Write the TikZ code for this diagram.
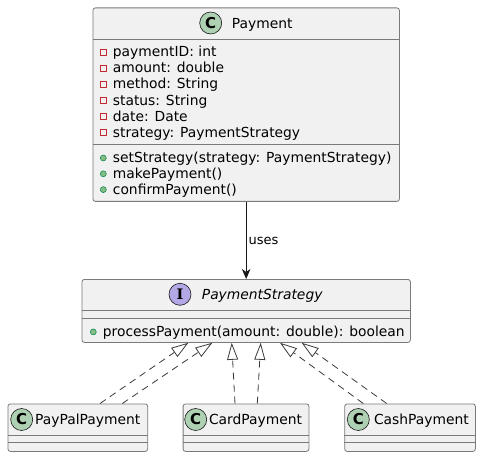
\documentclass[tikz,border=0pt]{standalone}
\usepackage{fontspec}
\setmainfont{DejaVu Sans}
\newfontfamily\iserif{DejaVu Serif}
\usetikzlibrary{arrows.meta,calc}
\definecolor{boxfill}{HTML}{F1F1F1}
\definecolor{boxline}{HTML}{181818}
\definecolor{boxedge}{HTML}{7A7A7A}
\definecolor{classgreen}{HTML}{ADD1B2}
\definecolor{intpurple}{HTML}{B4A7E5}
\definecolor{privred}{HTML}{C82930}
\definecolor{pubgreen}{HTML}{84BE84}
\definecolor{pubdark}{HTML}{038048}
\begin{document}
\begin{tikzpicture}[x=1pt,y=-1pt,
  umlbox/.style={draw=boxedge, fill=boxfill, line width=0.8pt, rounded corners=2.5pt, inner sep=0pt, anchor=north west},
  divider/.style={draw=boxedge, line width=0.8pt},
  member/.style={anchor=base west, inner sep=0pt, font=\fontsize{13.85}{16}\selectfont},
  titletxt/.style={anchor=base west, inner sep=0pt, font=\fontsize{13.85}{16}\selectfont},
  ccircle/.style={circle, draw=boxline, line width=0.6pt, fill=classgreen, minimum size=22pt, inner sep=0pt, font=\bfseries\fontsize{15}{15}\selectfont},
  icircle/.style={circle, draw=boxline, line width=0.6pt, fill=intpurple, minimum size=22pt, inner sep=0pt, font=\iserif\bfseries\fontsize{14.5}{15}\selectfont},
  privicon/.style={rectangle, draw=privred, line width=0.7pt, minimum size=6pt, inner sep=0pt},
  pubicon/.style={circle, draw=pubdark, fill=pubgreen, line width=0.5pt, minimum size=6pt, inner sep=0pt},
  usesarrow/.style={draw=boxline, line width=0.9pt, -{Stealth[length=10pt,width=8.5pt,inset=3pt]}},
  impl/.style={draw=boxline!85, line width=0.8pt, dash pattern=on 7pt off 5pt, -{Triangle[length=17pt,width=11pt,fill=white,line width=0.8pt]}},
  lbl/.style={inner sep=0pt, font=\fontsize{13}{15}\selectfont}
]
\fill[white] (0,0) rectangle (479,457);
\useasboundingbox (0,0) rectangle (479,457);

% Payment class
\node[umlbox, minimum width=306.5pt, minimum height=193.5pt] (pay) at (92.5,7.5) {};
\draw[divider] ([yshift=-31.5pt]pay.north west) -- ([yshift=-31.5pt]pay.north east);
\draw[divider] ([yshift=-136.5pt]pay.north west) -- ([yshift=-136.5pt]pay.north east);
\node[ccircle] (payc) at (210.7,23) {C};
\node[titletxt] (payt) at (231.7,28.3) {Payment};
\foreach \t [count=\i] in {paymentID: int, amount: double, method: String, status: String, date: Date, strategy: PaymentStrategy}{
  \pgfmathsetmacro\yy{56.8+16.1*(\i-1)}
  \node[member] (pa\i) at (112.7,\yy) {\t};
  \node[privicon] (pai\i) at (103.3,\yy-4.6) {};
}
\foreach \t [count=\i] in {setStrategy(strategy: PaymentStrategy), makePayment(), confirmPayment()}{
  \pgfmathsetmacro\yy{162.6+15.8*(\i-1)}
  \node[member] (pm\i) at (112.7,\yy) {\t};
  \node[pubicon] (pmi\i) at (103.3,\yy-4.6) {};
}

% PaymentStrategy interface
\node[umlbox, minimum width=328.5pt, minimum height=63pt] (ps) at (81.5,279) {};
\draw[divider] ([yshift=-31.7pt]ps.north west) -- ([yshift=-31.7pt]ps.north east);
\draw[divider] ([yshift=-39.3pt]ps.north west) -- ([yshift=-39.3pt]ps.north east);
\node[icircle] (psc) at (180,294.3) {I};
\node[titletxt, font=\itshape\fontsize{13.85}{16}\selectfont] (pst) at (201.7,299.6) {PaymentStrategy};
\node[member] (psm1) at (102.7,336.5) {processPayment(amount: double): boolean};
\node[pubicon] (psmi1) at (93.3,331.9) {};

% Implementations
\node[umlbox, minimum width=139.8pt, minimum height=47.5pt] (pp) at (7.5,403.5) {};
\draw[divider] ([yshift=-31.5pt]pp.north west) -- ([yshift=-31.5pt]pp.north east);
\draw[divider] ([yshift=-39.3pt]pp.north west) -- ([yshift=-39.3pt]pp.north east);
\node[ccircle] (ppc) at (21.7,419.5) {C};
\node[titletxt] (ppt) at (35,424.8) {PayPalPayment};

\node[umlbox, minimum width=125.8pt, minimum height=47.5pt] (cp) at (182.7,403.5) {};
\draw[divider] ([yshift=-31.5pt]cp.north west) -- ([yshift=-31.5pt]cp.north east);
\draw[divider] ([yshift=-39.3pt]cp.north west) -- ([yshift=-39.3pt]cp.north east);
\node[ccircle] (cpc) at (195.7,419.5) {C};
\node[titletxt] (cpt) at (208.8,424.8) {CardPayment};

\node[umlbox, minimum width=130.7pt, minimum height=47.5pt] (cs) at (344.3,403.5) {};
\draw[divider] ([yshift=-31.5pt]cs.north west) -- ([yshift=-31.5pt]cs.north east);
\draw[divider] ([yshift=-39.3pt]cs.north west) -- ([yshift=-39.3pt]cs.north east);
\node[ccircle] (csc) at (358.3,419.5) {C};
\node[titletxt] (cst) at (373.8,424.8) {CashPayment};

% uses association
\draw[usesarrow] (pay.south) -- (ps.north) node[lbl, pos=0.51, anchor=west, xshift=2pt] (usesl) {uses};

% realizations
\draw[impl] ([xshift=92.5pt]pp.north west) -- ([xshift=106.8pt]ps.south west);
\draw[impl] ([xshift=114.8pt]pp.north west) -- ([xshift=130.8pt]ps.south west);
\draw[impl] ([xshift=52.3pt]cp.north west) -- ([xshift=150.2pt]ps.south west);
\draw[impl] ([xshift=74.6pt]cp.north west) -- ([xshift=179.2pt]ps.south west);
\draw[impl] ([xshift=19pt]cs.north west) -- ([xshift=198.5pt]ps.south west);
\draw[impl] ([xshift=42.4pt]cs.north west) -- ([xshift=220.2pt]ps.south west);
\end{tikzpicture}
\end{document}
